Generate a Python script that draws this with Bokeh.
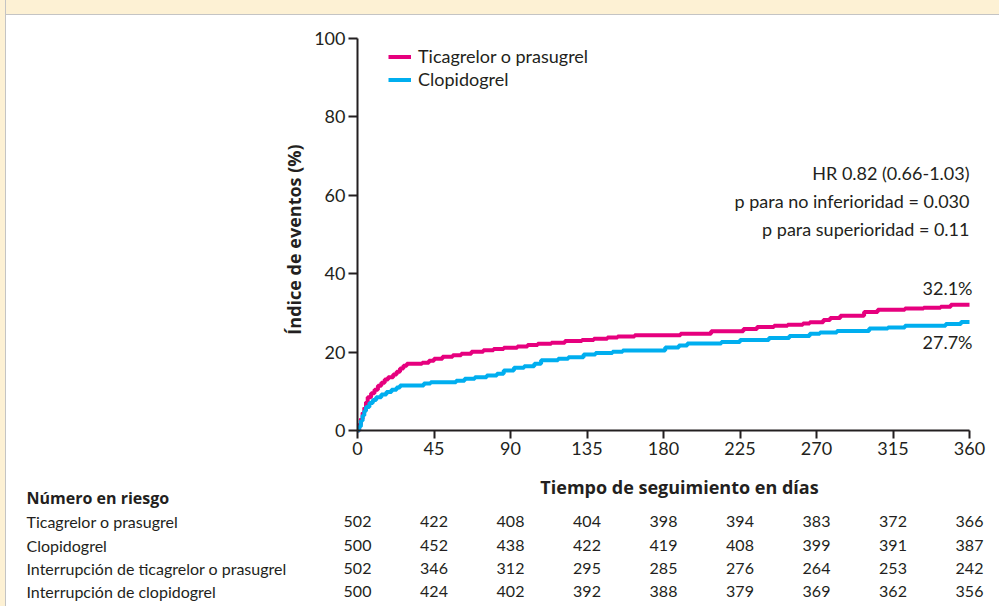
import math
from bokeh.plotting import figure
from bokeh.models import (Range1d, FixedTicker, ColumnDataSource, Legend, LegendItem, Div)
from bokeh.layouts import column, row
from bokeh.embed import file_html
from bokeh.resources import INLINE
from bokeh.core.properties import value

# ---------------- data ----------------
ticagrelor_days = [0, 1, 2, 3, 4, 5, 6, 8, 10, 12, 14, 16, 18, 21, 23, 25, 27, 29, 38, 42, 45,
                   50, 56, 61, 67, 74, 80, 86, 94, 100, 106, 114, 122, 132, 139, 147, 153, 163,
                   190, 208, 227, 235, 245, 253, 262, 266, 274, 278, 284, 298, 306, 322, 333,
                   343, 349, 360]
ticagrelor_pct = [0, 1.5, 3.0, 4.5, 5.8, 7.2, 8.5, 9.5, 10.4, 11.4, 12.2, 13.0, 13.6, 14.3, 15.0,
                  15.8, 16.5, 17.0, 17.3, 17.8, 18.3, 18.8, 19.2, 19.6, 20.1, 20.5, 20.8, 21.1,
                  21.4, 21.8, 22.1, 22.4, 22.8, 23.1, 23.4, 23.7, 24.0, 24.3, 24.7, 25.3, 25.9,
                  26.4, 26.7, 27.0, 27.3, 27.6, 28.2, 28.7, 29.3, 30.2, 30.8, 31.1, 31.3, 31.6,
                  32.1, 32.1]
clopidogrel_days = [0, 1, 2, 3, 4, 5, 7, 9, 11, 14, 17, 20, 23, 25, 39, 43, 58, 63, 69, 76, 82,
                    86, 92, 98, 104, 108, 118, 124, 133, 140, 150, 156, 181, 189, 194, 214, 225,
                    242, 254, 266, 272, 282, 301, 312, 322, 346, 355, 360]
clopidogrel_pct = [0, 1.0, 2.5, 3.8, 5.0, 6.0, 7.0, 7.8, 8.5, 9.2, 9.8, 10.4, 11.0, 11.5, 12.0,
                   12.3, 12.7, 13.2, 13.6, 14.0, 14.5, 15.3, 16.0, 16.4, 17.0, 17.9, 18.3, 18.7,
                   19.4, 19.8, 20.1, 20.4, 21.2, 21.7, 22.2, 22.6, 23.1, 23.6, 24.1, 24.7, 25.0,
                   25.4, 26.0, 26.3, 26.7, 27.2, 27.7, 27.7]
final_ticagrelor = 32.1
final_clopidogrel = 27.7

series_names = ["Ticagrelor o prasugrel", "Clopidogrel"]
x_ticks = [0, 45, 90, 135, 180, 225, 270, 315, 360]
y_ticks = [0, 20, 40, 60, 80, 100]

stats_lines = ["HR 0.82 (0.66-1.03)", "p para no inferioridad = 0.030",
               "p para superioridad = 0.11"]

risk_title = "Número en riesgo"
risk_groups = ["Ticagrelor o prasugrel", "Clopidogrel",
               "Interrupción de ticagrelor o prasugrel", "Interrupción de clopidogrel"]
risk_ticagrelor = [502, 422, 408, 404, 398, 394, 383, 372, 366]
risk_clopidogrel = [500, 452, 438, 422, 419, 408, 399, 391, 387]
risk_int_ticagrelor = [502, 346, 312, 295, 285, 276, 264, 253, 242]
risk_int_clopidogrel = [500, 424, 402, 392, 388, 379, 369, 362, 356]

x_label = "Tiempo de seguimiento en días"
y_label = "Índice de eventos (%)"

# ---------------- style / layout (page pixels) ----------------
PINK = "#E6007E"
BLUE = "#00AEEF"
INK = "#231F20"
FONT = "Lato"
BOLD_FONT = "Open Sans"
CREAM = "#FDF1D4"
EDGE = "#C4C4C4"

PAGE_W, PAGE_H = 999, 606
LEFT_W = 6            # cream strip on the left
TOP_H = 15            # cream strip on the top
W = PAGE_W - LEFT_W
H = PAGE_H - TOP_H
X_AXIS_PX = 357       # page x of day 0
Y_TOP_PX = 38         # page y of 100 %
Y_BOT_PX = 430        # page y of 0 %
PX_PER_DAY = 1.7
PX_PER_PCT = (Y_BOT_PX - Y_TOP_PX) / 100.0


def dx(px):
    """page pixel x -> days"""
    return (px - X_AXIS_PX) / PX_PER_DAY


def dy(py):
    """page pixel y -> percent"""
    return (Y_BOT_PX - py) / PX_PER_PCT


p = figure(width=W, height=H,
           x_range=Range1d(dx(LEFT_W), dx(PAGE_W)), y_range=Range1d(dy(PAGE_H), dy(TOP_H)),
           output_backend="svg", toolbar_location=None, min_border=0)
p.outline_line_color = None
p.xgrid.visible = False
p.ygrid.visible = False
p.background_fill_color = "white"
p.border_fill_color = "white"

for ax in (p.xaxis[0], p.yaxis[0]):
    ax.fixed_location = 0
    ax.axis_line_color = INK
    ax.axis_line_width = 2
    ax.major_tick_line_color = INK
    ax.major_tick_line_width = 2
    ax.major_tick_in = 0
    ax.minor_tick_line_color = None
    ax.major_label_text_font = FONT
    ax.major_label_text_font_size = "18px"
    ax.major_label_text_color = INK

p.xaxis.ticker = FixedTicker(ticks=x_ticks)
p.yaxis.ticker = FixedTicker(ticks=y_ticks)
p.xaxis.bounds = (x_ticks[0], x_ticks[-1])
p.yaxis.bounds = (y_ticks[0], y_ticks[-1])
p.xaxis.major_tick_out = 8
p.yaxis.major_tick_out = 9
p.xaxis.major_label_standoff = 3
p.yaxis.major_label_standoff = 3

r1 = p.step(ticagrelor_days, ticagrelor_pct, mode="after", line_width=4, line_color=PINK)
r2 = p.step(clopidogrel_days, clopidogrel_pct, mode="after", line_width=4, line_color=BLUE)

legend = Legend(items=[LegendItem(label=series_names[0], renderers=[r1]),
                       LegendItem(label=series_names[1], renderers=[r2])],
                location=(388 - LEFT_W, PAGE_H - 90.5), padding=0, margin=0, spacing=0,
                glyph_width=23, glyph_height=23, label_height=23, label_standoff=7,
                label_text_font=FONT, label_text_font_size="18px", label_text_color=INK,
                background_fill_alpha=0, border_line_color=None)
p.add_layout(legend)


def txt(xs, ys, texts, size, align="left", font=FONT, style="normal", angle=0.0):
    p.text(x="x", y="y", text="text", source=ColumnDataSource(dict(x=xs, y=ys, text=texts)),
           text_align=align, text_baseline="middle", text_font=value(font),
           text_font_size=size, text_font_style=style, text_color=INK, angle=angle)


# end-of-curve percentages
end_x = x_ticks[-1] + 3 / PX_PER_DAY
txt([end_x, end_x],
    [final_ticagrelor + 17 / PX_PER_PCT, final_clopidogrel - 20 / PX_PER_PCT],
    [f"{final_ticagrelor}%", f"{final_clopidogrel}%"], "18px", align="right")

# statistics block
txt([x_ticks[-1]] * len(stats_lines), [dy(172 + 28.3 * i) for i in range(len(stats_lines))],
    stats_lines, "18px", align="right")

# axis titles
txt([dx(293)], [dy(239)], [y_label], "18px", align="center", font=BOLD_FONT, style="bold",
    angle=math.pi / 2)
txt([dx(679)], [dy(486)], [x_label], "18px", align="center", font=BOLD_FONT, style="bold")

# number at risk table
txt([dx(26)], [dy(497)], [risk_title], "16px", font=BOLD_FONT, style="bold")
rows = [risk_ticagrelor, risk_clopidogrel, risk_int_ticagrelor, risk_int_clopidogrel]
row_py = [521, 544.5, 567.5, 590.5]
tx, ty, tt = [], [], []
for vals, py in zip(rows, row_py):
    for d, v in zip(x_ticks, vals):
        tx.append(d)
        ty.append(dy(py))
        tt.append(str(v))
txt(tx, ty, tt, "16px", align="center")
txt([dx(26)] * len(risk_groups), [dy(py) for py in row_py], risk_groups, "16px")

# ---------------- frame of the page ----------------
top = Div(text="", width=W, height=TOP_H, margin=(0, 0, 0, 0),
          styles={"background-color": CREAM, "border-bottom": f"1px solid {EDGE}",
                  "box-sizing": "border-box"})
left = Div(text="", width=LEFT_W, height=PAGE_H, margin=(0, 0, 0, 0),
           styles={"background-color": CREAM, "border-right": f"1px solid {EDGE}",
                   "box-sizing": "border-box"})

layout = row(left, column(top, p, spacing=0), spacing=0)
open("out.html", "w").write(file_html(layout, INLINE))
